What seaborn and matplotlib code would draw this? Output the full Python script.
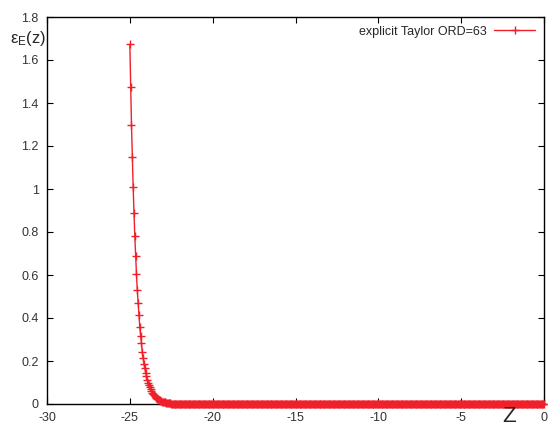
import numpy as np
import pandas as pd
import seaborn as sns
import matplotlib.pyplot as plt

# sample grid of z (first point at -25, ~0.05 spacing up to 0)
z_start = -25.0
z_stop = 0.0
n_points = 501

# error values, decaying part
eps_head = [1.674, 1.476, 1.298, 1.147, 1.009, 0.890, 0.781, 0.688, 0.605, 0.530,
            0.470, 0.414, 0.358, 0.316, 0.284, 0.242, 0.214, 0.188, 0.166, 0.146,
            0.128, 0.113, 0.099, 0.087, 0.077, 0.068, 0.060, 0.052, 0.046, 0.041,
            0.036, 0.032, 0.028, 0.024, 0.021, 0.019, 0.017, 0.015, 0.013, 0.011,
            0.010, 0.009, 0.008, 0.007, 0.006, 0.005, 0.004, 0.004, 0.003, 0.003,
            0.002, 0.002, 0.002, 0.001, 0.001, 0.001]
# flat part: sits on zero
eps_tail = [0.0] * (n_points - len(eps_head))

x_ticks = [-30, -25, -20, -15, -10, -5, 0]
y_ticks = [0, 0.2, 0.4, 0.6, 0.8, 1, 1.2, 1.4, 1.6, 1.8]
y_ticklabels = ["0", "0.2", "0.4", "0.6", "0.8", "1", "1.2", "1.4", "1.6", "1.8"]

df = pd.DataFrame({"z": np.linspace(z_start, z_stop, n_points),
                   "eps": eps_head + eps_tail})

sns.set_style("ticks")
plt.rcParams["font.family"] = ["Liberation Sans", "DejaVu Sans"]
plt.rcParams["mathtext.fontset"] = "custom"
plt.rcParams["mathtext.rm"] = "Liberation Sans"

fig = plt.figure(figsize=(5.48, 4.28), dpi=100)
ax = fig.add_axes([47 / 548, 24 / 428, 497 / 548, 387 / 428])

red = "#f0202a"
sns.lineplot(data=df, x="z", y="eps", ax=ax, color=red, linewidth=1.0,
             marker="+", markersize=5.5, markeredgewidth=1.0, markeredgecolor=red,
             label="explicit Taylor ORD=63", clip_on=False, zorder=3)

ax.set_xlim(-30, 0)
ax.set_ylim(0, 1.8)
ax.set_xticks(x_ticks)
ax.set_xticklabels([str(t) for t in x_ticks])
ax.set_yticks(y_ticks)
ax.set_yticklabels(y_ticklabels)
ax.tick_params(direction="in", length=4, width=0.8, top=True, right=True,
               labelsize=9, colors="black", labelcolor="#333333", pad=6)
for s in ax.spines.values():
    s.set_linewidth(1.0)
    s.set_color("black")

ax.set_xlabel("")
ax.set_ylabel("")
fig.text(10 / 548, 1 - 38 / 428, r"$\mathregular{\epsilon_E(z)}$", fontsize=12,
         ha="left", va="center")
fig.text(509 / 548, 1 - 417 / 428, "Z", fontsize=16, ha="center", va="center")

ax.legend(loc="upper right", frameon=False, markerfirst=False, fontsize=9,
          handlelength=3.3, borderaxespad=0.3, handletextpad=0.6)

fig.savefig("out.png", dpi=100)
